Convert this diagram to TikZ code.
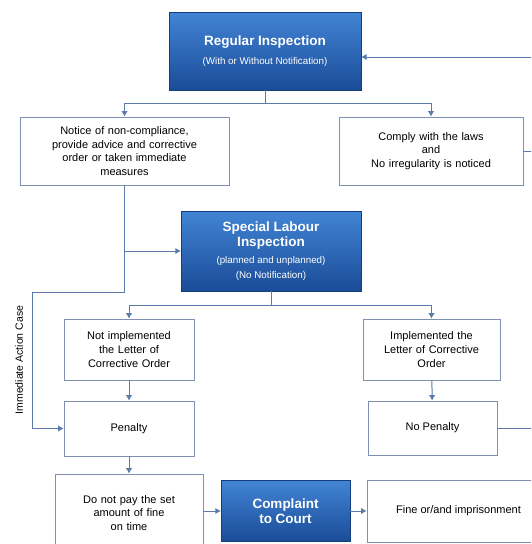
\documentclass[tikz,border=0pt]{standalone}
\usepackage{fontspec}
\setmainfont{Liberation Sans}
\usetikzlibrary{arrows.meta}
\definecolor{lnk}{HTML}{5B7BAB}
\definecolor{brd}{HTML}{8090B2}
\definecolor{btop}{HTML}{4284D4}
\definecolor{bbot}{HTML}{1A4C98}
\begin{document}
\begin{tikzpicture}[x=1pt,y=-1pt,
    box/.style={draw=brd,fill=white,line width=0.8pt,align=center,
      font=\fontsize{11}{13.8}\selectfont,inner sep=2pt},
    bluebox/.style={draw=bbot!80!black,top color=btop,bottom color=bbot,
      align=center,text=white,font=\fontsize{13.5}{15.5}\selectfont\bfseries},
    lnk/.style={draw=lnk,line width=1pt},
    arr/.style={lnk,-{Latex[length=5.5pt,width=6.5pt]}}]
      \useasboundingbox (0,0) rectangle (531,544);
      \clip (0,0) rectangle (531,544);

      \node[bluebox,minimum width=192pt,minimum height=78pt] (reg) at (265,51)
        {Regular Inspection\\[4pt]{\fontsize{9.8}{11}\selectfont\mdseries(With or Without Notification)}};
      \node[box,minimum width=209pt,minimum height=68pt,text width=200pt] (notice) at (124.5,151)
        {Notice of non-compliance,\\ provide advice and corrective\\ order or taken immediate\\ measures};
      \node[box,minimum width=184pt,minimum height=68pt,text width=175pt] (comply) at (431,151)
        {Comply with the laws\\ and\\ No irregularity is noticed};
      \node[bluebox,minimum width=180pt,minimum height=80pt] (special) at (271,251)
        {Special Labour\\ Inspection\\[1pt]{\fontsize{9.8}{11.5}\selectfont\mdseries(planned and unplanned)}\\
         {\fontsize{9.8}{11.5}\selectfont\mdseries(No Notification)}};
      \node[box,minimum width=130pt,minimum height=61pt,text width=124pt] (notimpl) at (129,349.5)
        {Not implemented\\ the Letter of\\ Corrective Order};
      \node[box,minimum width=137pt,minimum height=61pt,text width=132pt] (impl) at (431.5,349.5)
        {Implemented the\\ Letter of Corrective\\ Order};
      \node[box,minimum width=130pt,minimum height=55pt] (penalty) at (129,428.5) {Penalty};
      \node[box,minimum width=129pt,minimum height=54pt] (nopen) at (432.5,428) {No Penalty};
      \node[box,minimum width=148pt,minimum height=78pt,text width=142pt] (notpay) at (129,513)
        {Do not pay the set\\ amount of fine\\ on time};
      \node[bluebox,minimum width=129pt,minimum height=61pt] (complaint) at (285.5,511)
        {Complaint\\ to Court};
      \node[box,minimum width=183pt,minimum height=62pt] (fine) at (458.5,511)
        {Fine or/and imprisonment};
      \node[rotate=90,font=\fontsize{10.5}{12}\selectfont] (iaclbl) at (19,360) {Immediate Action Case};

      \coordinate (fa) at (265,103);
      \coordinate (fb) at (271,305);
      \coordinate (iac) at (32,292);
      \coordinate (back) at (545,57);

      \draw[lnk] (reg.south) -- (fa);
      \foreach \dst in {notice,comply}
        {\draw[arr] (fa) -| (\dst.north);}
      \draw[arr] (notice.south) |- (special.west);
      \draw[arr] (notice.south) |- (iac) |- (penalty.west);

      \draw[lnk] (special.south) -- (fb);
      \foreach \dst in {notimpl,impl}
        {\draw[arr] (fb) -| (\dst.north);}
      \draw[arr] (notimpl) -- (penalty);
      \draw[arr] (impl) -- (nopen);
      \draw[arr] (penalty) -- (notpay);
      \draw[arr] (complaint.west -| notpay.east) -- (complaint.west);
      \draw[arr] (complaint) -- (fine);

      % back to regular inspection
      \draw[arr] (back) -- (back -| reg.east);
      \draw[lnk] (comply.east) -- (comply.east -| back) -- (back);
      \draw[lnk] (nopen.east) -- (nopen.east -| back) -- (back);
    \end{tikzpicture}
\end{document}
